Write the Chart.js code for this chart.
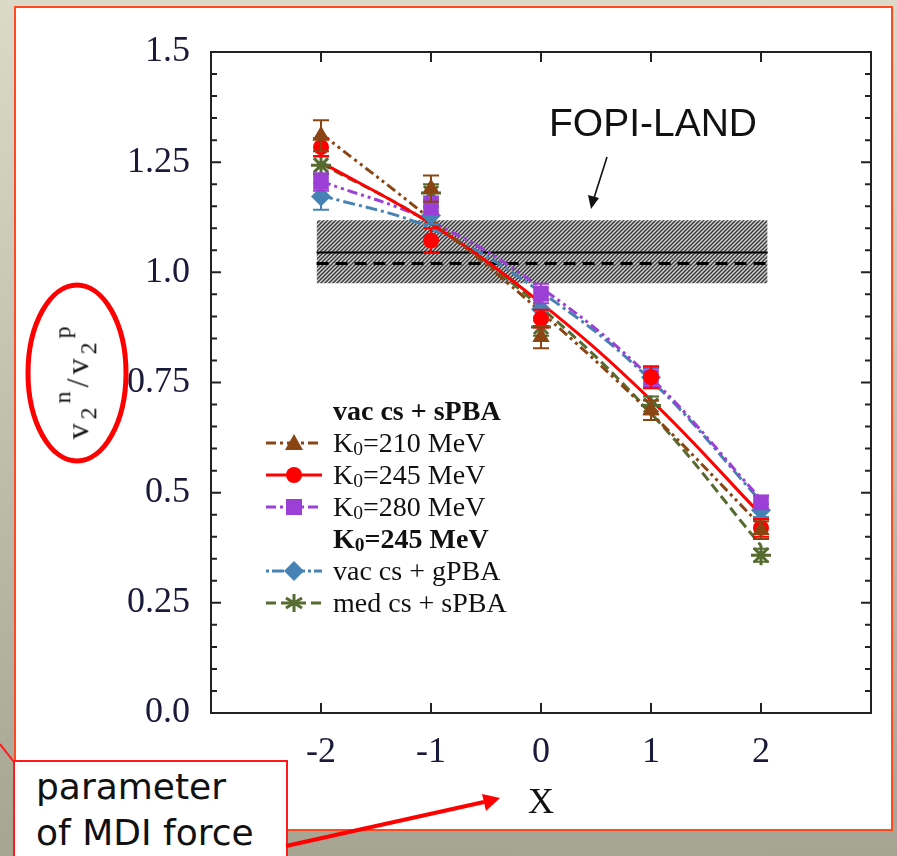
<!DOCTYPE html>
<html>
<head>
<meta charset="utf-8">
<script src="https://cdn.jsdelivr.net/npm/chart.js@4.4.1/dist/chart.umd.min.js"></script>
<style>
html, body { margin: 0; padding: 0; }
body {
  width: 897px; height: 856px; position: relative; overflow: hidden;
  background: linear-gradient(to bottom, #dbd9c8, #a6a593);
  font-family: 'Liberation Serif', serif;
}
#panel { position: absolute; left: 14px; top: 6px; width: 875px; height: 821px; background: #fff; border: 2px solid #ff4a1f; }
#chart { position: absolute; left: 0; top: 0; }
#ylabel {
  position: absolute; left: 76px; top: 381px; transform: translate(-50%, -50%) rotate(-90deg);
  font-size: 32px; color: #111; white-space: nowrap; letter-spacing: 4px;
}
#ylabel sub { font-size: 0.75em; vertical-align: -0.35em; }
#ylabel sup { font-size: 0.75em; vertical-align: 0.75em; }
#legend { position: absolute; left: 266px; top: 395px; font-size: 28px; color: #111; }
#legend .row { height: 32px; line-height: 32px; display: flex; align-items: center; white-space: nowrap; }
#legend .row svg { width: 56px; height: 22px; margin-right: 11px; flex: none; }
#legend .head { padding-left: 67px; font-weight: bold; }
#legend sub { font-size: 0.7em; position: relative; top: 0.3em; vertical-align: baseline; line-height: 0; }
#fopi { position: absolute; left: 549px; top: 101px; font-family: 'Liberation Sans', sans-serif; font-size: 39px; color: #111; }
#note {
  position: absolute; left: 13px; top: 760px; width: 275px; height: 120px; background: #fff; border: 2px solid #ff1a1a;
  font-family: 'DejaVu Sans', sans-serif; font-size: 36px; line-height: 46px; color: #111; padding: 2px 0 0 21px; box-sizing: border-box;
}
#marks { position: absolute; left: 0; top: 0; }
</style>
</head>
<body>
<div id="panel"></div>
<canvas id="chart" width="897" height="856"></canvas>
<div id="ylabel">v<sub>2</sub><sup>n</sup>/v<sub>2</sub><sup>p</sup></div>
<div id="fopi">FOPI-LAND</div>
<div id="legend">
  <div class="head row">vac cs + sPBA</div>
  <div class="row"><svg viewBox="0 0 56 22"><line x1="0" y1="11" x2="56" y2="11" stroke="#8b4513" stroke-width="3" stroke-dasharray="10,4,3,4"/><polygon points="28,2 37,18 19,18" fill="#8b4513"/></svg>K<sub>0</sub>=210 MeV</div>
  <div class="row"><svg viewBox="0 0 56 22"><line x1="0" y1="11" x2="56" y2="11" stroke="#ff0000" stroke-width="3"/><circle cx="28" cy="11" r="8" fill="#ff0000"/></svg>K<sub>0</sub>=245 MeV</div>
  <div class="row"><svg viewBox="0 0 56 22"><line x1="0" y1="11" x2="56" y2="11" stroke="#9b3fd6" stroke-width="3" stroke-dasharray="10,4,3,4"/><rect x="20" y="3" width="16" height="16" fill="#9b3fd6"/></svg>K<sub>0</sub>=280 MeV</div>
  <div class="head row">K<sub>0</sub>=245 MeV</div>
  <div class="row"><svg viewBox="0 0 56 22"><line x1="0" y1="11" x2="56" y2="11" stroke="#4682b4" stroke-width="3" stroke-dasharray="3,3,12,3"/><polygon points="28,1 38,11 28,21 18,11" fill="#4682b4"/></svg>vac cs + gPBA</div>
  <div class="row"><svg viewBox="0 0 56 22"><line x1="0" y1="11" x2="56" y2="11" stroke="#556b2f" stroke-width="3" stroke-dasharray="10,5"/><path d="M28,2 L28,20 M20,6 L36,16 M20,16 L36,6" stroke="#556b2f" stroke-width="3"/></svg>med cs + sPBA</div>
</div>
<div id="note">parameter<br>of MDI force</div>
<svg id="marks" width="897" height="856">
  <ellipse cx="77" cy="373" rx="49" ry="88" fill="none" stroke="#ff0000" stroke-width="5"/>
  <line x1="0" y1="744" x2="14" y2="762" stroke="#ff1a1a" stroke-width="2"/>
  <line x1="286" y1="846" x2="484" y2="802" stroke="#ff0000" stroke-width="4"/>
  <polygon points="500,798 482,794 486,811" fill="#ff0000"/>
  <line x1="607" y1="157" x2="594" y2="198" stroke="#111" stroke-width="1.6"/>
  <polygon points="591,209 588,195 599,198" fill="#111"/>
</svg>
<script>
// x positions and tick labels
var xVals = [-2, -1, 0, 1, 2];
var xTickLabels = ['-2', '-1', '0', '1', '2'];
var yTicks = [0, 0.25, 0.5, 0.75, 1.0, 1.25, 1.5];
var yTickLabels = ['0.0', '0.25', '0.5', '0.75', '1.0', '1.25', '1.5'];
var yMinorStep = 0.05;

// calculated points and their errors
var k210 = [1.31, 1.19, 0.853, 0.687, 0.415];
var k210Err = [0.035, 0.03, 0.025, 0.022, 0.02];
var k245 = [1.284, 1.072, 0.895, 0.762, 0.42];
var k245Err = [0.02, 0.028, 0.02, 0.025, 0.02];
var k280 = [1.205, 1.152, 0.952, 0.762, 0.478];
var k280Err = [0.02, 0.02, 0.022, 0.022, 0.015];
var gpba = [1.172, 1.129, 0.916, 0.762, 0.46];
var gpbaErr = [0.03, 0.02, 0.02, 0.02, 0.015];
var medcs = [1.243, 1.18, 0.876, 0.698, 0.358];
var medcsErr = [0.02, 0.02, 0.02, 0.02, 0.015];

// fitted curves
var k210Fit = [1.315, 1.12, 0.91, 0.68, 0.425];
var k245Fit = [1.25, 1.11, 0.93, 0.71, 0.45];
var k280Fit = [1.207, 1.115, 0.965, 0.76, 0.485];
var gpbaFit = [1.175, 1.10, 0.955, 0.755, 0.48];
var medcsFit = [1.247, 1.11, 0.92, 0.68, 0.38];

// FOPI-LAND band
var fopiX = [-2.04, 2.06];
var fopiLo = 0.975;
var fopiHi = 1.118;
var fopiMean = 1.045;
var fopiDashed = 1.02;

function pts(ys) {
  return xVals.map(function(x, i) { return {x: x, y: ys[i]}; });
}
function flat(v) {
  return fopiX.map(function(x) { return {x: x, y: v}; });
}

function hatch() {
  var c = document.createElement('canvas');
  c.width = 4; c.height = 4;
  var g = c.getContext('2d');
  g.fillStyle = '#d0d0d0';
  g.fillRect(0, 0, 4, 4);
  g.strokeStyle = '#333';
  g.lineWidth = 1.3;
  g.beginPath();
  g.moveTo(0, 4); g.lineTo(4, 0);
  g.moveTo(-1, 1); g.lineTo(1, -1);
  g.moveTo(3, 5); g.lineTo(5, 3);
  g.stroke();
  return g.createPattern(c, 'repeat');
}

var series = [
  {fit: k210Fit, val: k210, err: k210Err, color: '#8b4513', dash: [10, 4, 3, 4, 3, 4], style: 'triangle', r: 10},
  {fit: k245Fit, val: k245, err: k245Err, color: '#ff0000', dash: [], style: 'circle', r: 8},
  {fit: k280Fit, val: k280, err: k280Err, color: '#9b3fd6', dash: [10, 4, 3, 4, 3, 4], style: 'rect', r: 11},
  {fit: gpbaFit, val: gpba, err: gpbaErr, color: '#4682b4', dash: [12, 4, 3, 4], style: 'rectRot', r: 10},
  {fit: medcsFit, val: medcs, err: medcsErr, color: '#556b2f', dash: [10, 5], style: 'star', r: 10}
];

var datasets = [];
series.forEach(function(s) {
  datasets.push({
    data: pts(s.val), err: s.err, showLine: false, order: 0,
    pointStyle: s.style, pointRadius: s.r, backgroundColor: s.color,
    borderColor: s.color, pointBorderWidth: s.style === 'star' ? 3 : 0
  });
  datasets.push({
    data: pts(s.fit), showLine: true, order: 1, pointRadius: 0,
    borderColor: s.color, borderWidth: 3, borderDash: s.dash,
    tension: 0.4, fill: false
  });
});
datasets.push({data: flat(fopiMean), showLine: true, order: 2, pointRadius: 0, borderColor: '#000', borderWidth: 2.2, fill: false});
datasets.push({data: flat(fopiDashed), showLine: true, order: 2, pointRadius: 0, borderColor: '#000', borderWidth: 3, borderDash: [12, 7], fill: false});
datasets.push({data: flat(fopiHi), showLine: true, order: 3, pointRadius: 0, borderWidth: 0,
  backgroundColor: hatch(), fill: {target: {value: fopiLo}}});
datasets.push({data: flat(fopiLo), showLine: true, order: 3, pointRadius: 0, borderWidth: 0, fill: false});

var frame = {
  id: 'frame',
  beforeDatasetDraw: function(chart, args) {
    var ds = chart.data.datasets[args.index];
    if (!ds.err) return;
    var ctx = chart.ctx, xs = chart.scales.x, ys = chart.scales.y;
    ctx.save();
    ctx.strokeStyle = ds.borderColor;
    ctx.lineWidth = 2;
    ds.data.forEach(function(p, i) {
      var px = xs.getPixelForValue(p.x);
      var t = ys.getPixelForValue(p.y + ds.err[i]);
      var b = ys.getPixelForValue(p.y - ds.err[i]);
      ctx.beginPath();
      ctx.moveTo(px, t); ctx.lineTo(px, b);
      ctx.moveTo(px - 8, t); ctx.lineTo(px + 8, t);
      ctx.moveTo(px - 8, b); ctx.lineTo(px + 8, b);
      ctx.stroke();
    });
    ctx.restore();
  },
  afterDatasetsDraw: function(chart) {
    var ctx = chart.ctx, a = chart.chartArea, xs = chart.scales.x, ys = chart.scales.y;
    ctx.save();
    ctx.strokeStyle = '#222';
    ctx.lineWidth = 2;
    ctx.strokeRect(a.left, a.top, a.right - a.left, a.bottom - a.top);
    ctx.beginPath();
    xVals.forEach(function(v) {
      var px = xs.getPixelForValue(v);
      ctx.moveTo(px, a.bottom); ctx.lineTo(px, a.bottom - 10);
      ctx.moveTo(px, a.top); ctx.lineTo(px, a.top + 10);
    });
    for (var k = 0; k <= 30; k++) {
      var py = ys.getPixelForValue(k * yMinorStep);
      var len = k % 5 === 0 ? 10 : 6;
      ctx.moveTo(a.left, py); ctx.lineTo(a.left + len, py);
      ctx.moveTo(a.right, py); ctx.lineTo(a.right - len, py);
    }
    ctx.stroke();
    ctx.restore();
  }
};

var ctx = document.getElementById('chart');
var myChart = new Chart(ctx, {
  type: 'scatter',
  data: {datasets: datasets},
  options: {
    responsive: false,
    animation: false,
    devicePixelRatio: 1,
    layout: {padding: {left: 0, top: 52, right: 26, bottom: 31}},
    plugins: {legend: {display: false}, tooltip: {enabled: false}},
    scales: {
      x: {
        type: 'linear', min: -3, max: 3,
        grid: {display: false, drawTicks: false},
        border: {display: false},
        afterBuildTicks: function(s) { s.ticks = xVals.map(function(v) { return {value: v}; }); },
        afterFit: function(s) { s.height = 112; },
        ticks: {
          autoSkip: false, padding: 18, color: '#1a1a3a',
          font: {family: 'Liberation Serif', size: 36},
          callback: function(v, i) { return xTickLabels[i]; }
        },
        title: {display: true, text: 'X', color: '#111', padding: {top: 0, bottom: 0},
          font: {family: 'Liberation Serif', size: 36}}
      },
      y: {
        type: 'linear', min: 0, max: 1.5,
        grid: {display: false, drawTicks: false},
        border: {display: false},
        afterBuildTicks: function(s) { s.ticks = yTicks.map(function(v) { return {value: v}; }); },
        afterFit: function(s) { s.width = 211; },
        ticks: {
          autoSkip: false, padding: 21, color: '#1a1a3a',
          font: {family: 'Liberation Serif', size: 36},
          callback: function(v, i) { return yTickLabels[i]; }
        }
      }
    }
  },
  plugins: [frame]
});
</script>
</body>
</html>
